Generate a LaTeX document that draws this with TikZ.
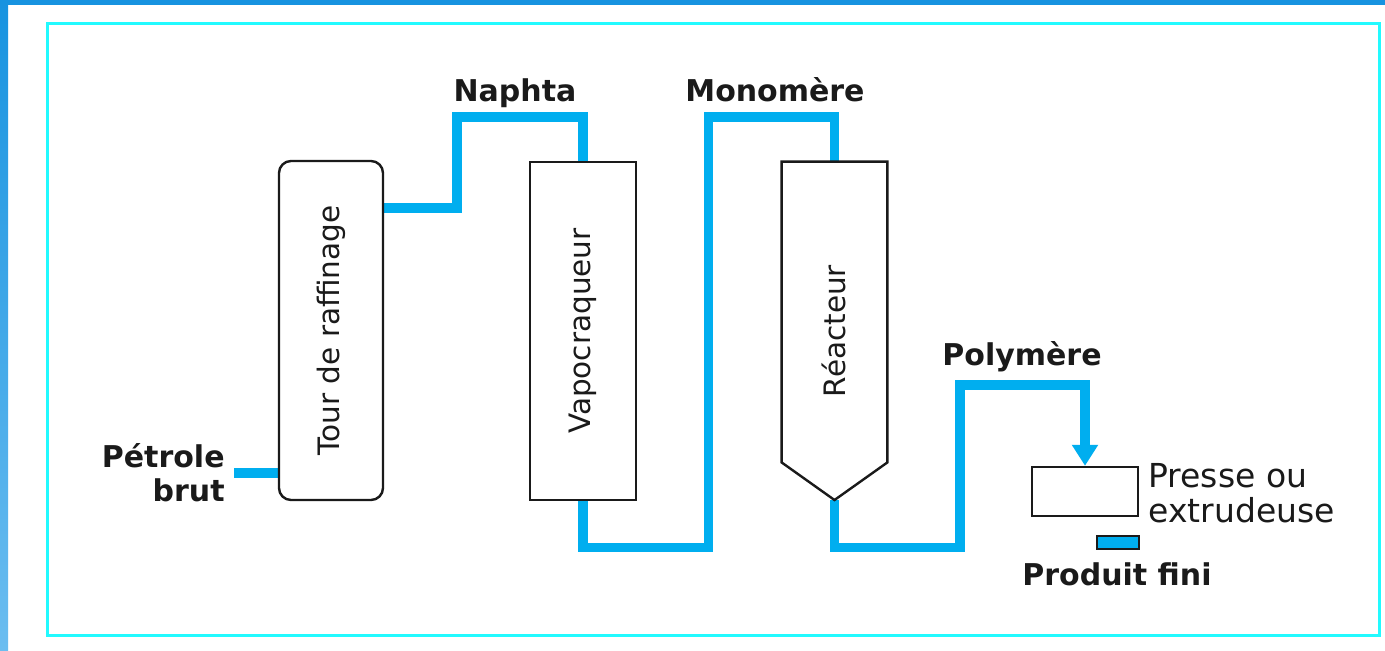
\documentclass[tikz,border=0pt]{standalone}
\usepackage{fontspec}
\setmainfont{DejaVu Sans}
\usetikzlibrary{arrows.meta,backgrounds}
\definecolor{flow}{HTML}{00AEEF}
\definecolor{framecyan}{HTML}{22FAFF}
\definecolor{topblue}{HTML}{1793E0}
\definecolor{botblue}{HTML}{6BBDF0}
\definecolor{ink}{HTML}{1A1A1A}
\begin{document}
\begin{tikzpicture}[x=0.5pt,y=-0.5pt,
  box/.style={draw=ink,line width=1.2pt,fill=white,inner sep=0pt},
  flowline/.style={draw=flow,line width=4.75pt},
  lbl/.style={font=\fontsize{15}{18}\selectfont\bfseries,text=ink,inner sep=0pt},
  vlbl/.style={font=\fontsize{14.75}{17}\selectfont,text=ink,rotate=90,inner sep=0pt},
  note/.style={font=\fontsize{16.5}{18}\selectfont,text=ink,inner sep=0pt}]
\useasboundingbox (0,0) rectangle (1385,650);
% equipment
\node[box,rounded corners=6pt,minimum width=52pt,minimum height=169.5pt] (tour) at (331,330.5) {};
\node[box,minimum width=53pt,minimum height=169pt] (vapo) at (583,331) {};
\node[inner sep=0pt,minimum width=52.5pt,minimum height=150pt] (reac) at (834.5,312) {};
\coordinate (reacTip) at (834.5,500);
\draw[ink,line width=1.2pt,fill=white] (reac.north west) -- (reac.north east) -- (reac.south east) -- (reacTip) -- (reac.south west) -- cycle;
\node[box,minimum width=53pt,minimum height=24.5pt] (press) at (1085,491.5) {};
\node[box,fill=flow,minimum width=21pt,minimum height=6.5pt] (prod) at (1118,542.5) {};
\coordinate (pin) at (234,473);
% background, frame and flows
\begin{pgfonlayer}{background}
\fill[white] (0,0) rectangle (1385,650);
\fill[topblue] (0,0) rectangle (1385,5);
\shade[top color=topblue,bottom color=botblue] (0,0) rectangle (8,650);
\draw[framecyan,line width=1.5pt] (47.5,23) rectangle (1379.5,635);
\draw[flowline] (pin) -- (pin -| tour.west);
\draw[flowline] (tour.east |- 0,208) -- (457,208) -- (457,117) -- (583,117) -- (vapo.north);
\draw[flowline] (vapo.south) -- (583,547.5) -- (708.5,547.5) -- (708.5,117) -- (834.5,117) -- (reac.north);
\draw[flowline,-{Triangle[width=12.5pt,length=10.5pt]}] (reacTip) -- (834.5,547.5) -- (960,547.5) -- (960,385) -- (1085,385) -- (press.north);
\end{pgfonlayer}
% labels
\node[vlbl] (ltour) at (tour.center) {Tour de raffinage};
\node[vlbl] (lvapo) at (vapo.center) {Vapocraqueur};
\node[vlbl] (lreac) at (834,331) {Réacteur};
\node[lbl,anchor=base] (naphta) at (515,101) {Naphta};
\node[lbl,anchor=base] (mono) at (775,101) {Monomère};
\node[lbl,anchor=base] (poly) at (1022,365) {Polymère};
\node[lbl,anchor=base east] (petrole) at (225,467) {Pétrole};
\node[lbl,anchor=base east] (brut) at (225,501) {brut};
\node[note,anchor=base west] (presse) at (1148,487) {Presse ou};
\node[note,anchor=base west] (extr) at (1148,522) {extrudeuse};
\node[lbl,anchor=base west] (fini) at (1022,585) {Produit fini};
\end{tikzpicture}
\end{document}
